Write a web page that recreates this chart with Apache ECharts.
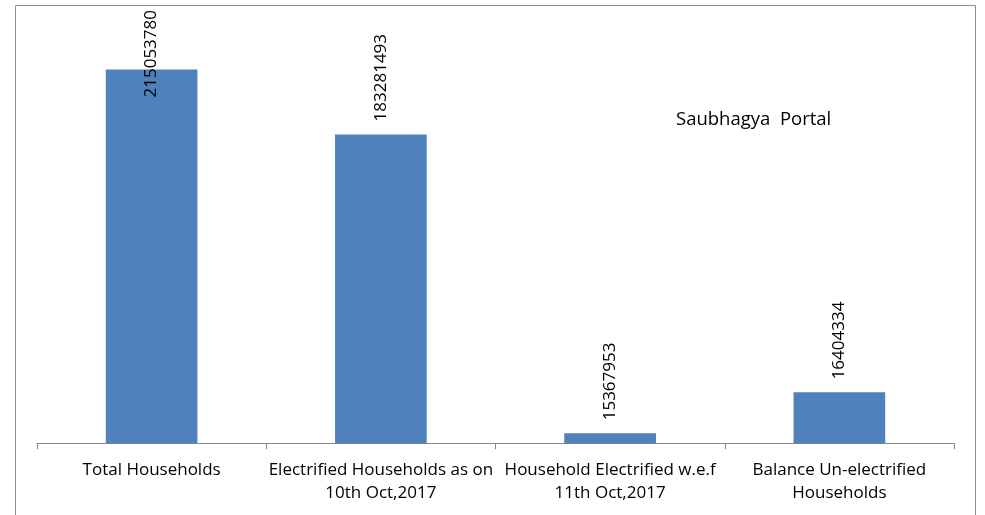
<!DOCTYPE html>
<html>
<head>
<meta charset="utf-8">
<script src="https://cdn.jsdelivr.net/npm/echarts@6/dist/echarts.min.js"></script>
<style>html,body{margin:0;padding:0;background:#fff}#c{width:985px;height:515px}</style>
</head>
<body>
<div id="c"></div>
<script>
// Categories (x axis)
const categories = [
  'Total Households',
  'Electrified Households as on\n10th Oct,2017',
  'Household Electrified w.e.f\n11th Oct,2017',
  'Balance Un-electrified\nHouseholds'
];
// Values printed above the bars
const printedValues = [215053780, 183281493, 15367953, 16404334];
// Bar heights as drawn in the picture (same units)
const barValues = [215053780, 177700000, 5750000, 29300000];
const chartTitle = 'Saubhagya  Portal';

const FONT = 'Open Sans';
const chart = echarts.init(document.getElementById('c'), null, {renderer: 'canvas'});

const data = barValues.map((v, i) => ({
  value: v,
  label: {
    formatter: String(printedValues[i]),
    position: i === 0 ? ['50%', 28] : ['50%', -13]
  }
}));

chart.setOption({
  animation: false,
  title: {
    text: chartTitle,
    left: 671, top: 105,
    textStyle: {fontFamily: FONT, fontSize: 18.5, fontWeight: 'normal', color: '#000'}
  },
  graphic: [{
    type: 'rect', silent: true,
    shape: {x: 15.5, y: 5.5, width: 960, height: 520},
    style: {fill: 'none', stroke: '#8c8c8c', lineWidth: 1}
  }],
  grid: {left: 37, right: 31, top: 69.5, bottom: 71.7, containLabel: false},
  xAxis: {
    type: 'category',
    data: categories,
    axisLine: {lineStyle: {color: '#868686', width: 1}},
    axisTick: {show: true, length: 6, inside: false, lineStyle: {color: '#868686'}},
    axisLabel: {fontFamily: FONT, fontSize: 17, color: '#000', lineHeight: 23, margin: 15, interval: 0}
  },
  yAxis: {
    type: 'value', show: false, min: 0, max: 'dataMax',
    splitLine: {show: false}
  },
  series: [{
    type: 'bar',
    data: data,
    barWidth: '40%',
    itemStyle: {color: '#4f81bd'},
    label: {
      show: true,
      rotate: 90,
      align: 'left',
      verticalAlign: 'middle',
      fontFamily: FONT,
      fontSize: 17,
      color: '#000'
    }
  }]
});
</script>
</body>
</html>
